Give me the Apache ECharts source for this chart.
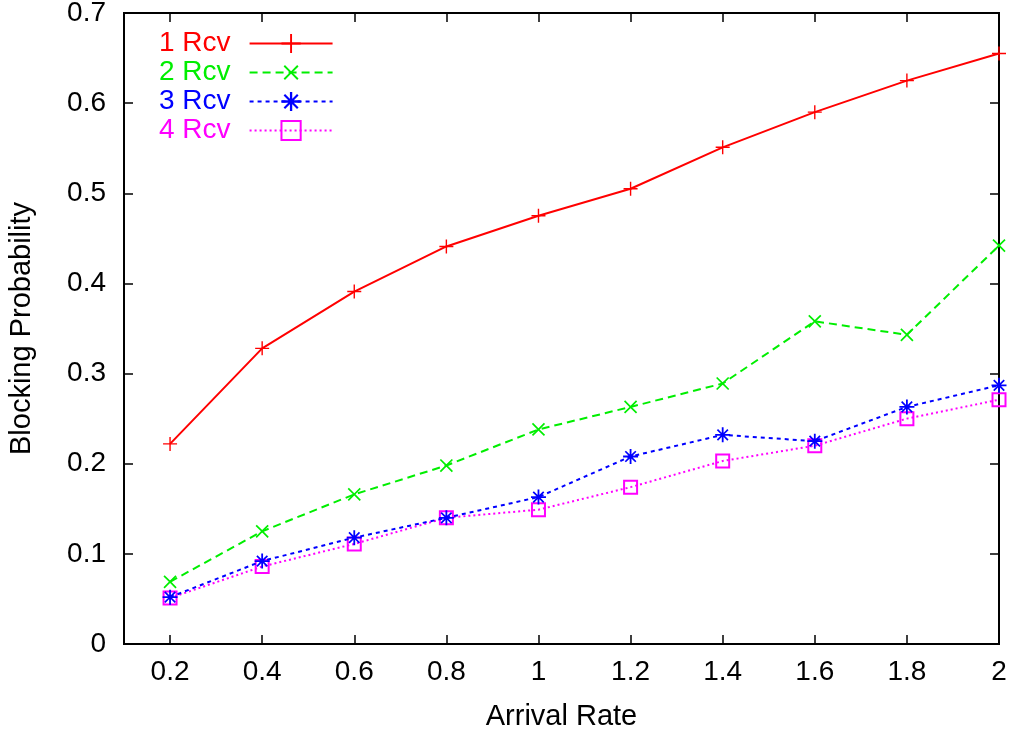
<!DOCTYPE html>
<html>
<head>
<meta charset="utf-8">
<script src="https://cdn.jsdelivr.net/npm/echarts@6/dist/echarts.min.js"></script>
<style>html,body{margin:0;padding:0;background:#fff;}#c{width:1011px;height:735px;}</style>
</head>
<body>
<div id="c"></div>
<script>
const arrivalRates = [0.2, 0.4, 0.6, 0.8, 1.0, 1.2, 1.4, 1.6, 1.8, 2.0];
const rcv1 = [0.222, 0.328, 0.391, 0.441, 0.475, 0.505, 0.551, 0.590, 0.625, 0.655];
const rcv2 = [0.069, 0.125, 0.166, 0.198, 0.238, 0.263, 0.289, 0.358, 0.343, 0.442];
const rcv3 = [0.052, 0.092, 0.118, 0.140, 0.163, 0.208, 0.232, 0.225, 0.263, 0.287];
const rcv4 = [0.051, 0.086, 0.111, 0.140, 0.149, 0.174, 0.203, 0.220, 0.250, 0.271];
const seriesNames = ['1 Rcv', '2 Rcv', '3 Rcv', '4 Rcv'];
const xTicks = [0.2, 0.4, 0.6, 0.8, 1, 1.2, 1.4, 1.6, 1.8, 2];

const FONT = 'Liberation Sans';
const plusPath = 'path://M-1,-10 L1,-10 L1,-1 L10,-1 L10,1 L1,1 L1,10 L-1,10 L-1,1 L-10,1 L-10,-1 L-1,-1 Z';
const starPath = 'path://M-1.2,-10 L1.2,-10 L1.2,-1.2 L10,-1.2 L10,1.2 L1.2,1.2 L1.2,10 L-1.2,10 L-1.2,1.2 L-10,1.2 L-10,-1.2 L-1.2,-1.2 Z ' +
  'M-7.8,-6.2 L-6.2,-7.8 L0,-1.6 L6.2,-7.8 L7.8,-6.2 L1.6,0 L7.8,6.2 L6.2,7.8 L0,1.6 L-6.2,7.8 L-7.8,6.2 L-1.6,0 Z';

function pairs(ys) { return arrivalRates.map((x, i) => [x, ys[i]]); }

const colors = ['#ff0000', '#00ee00', '#0000ff', '#ff00ff'];
const dataSets = [rcv1, rcv2, rcv3, rcv4];
const symbols = [plusPath, plusPath, starPath, 'rect'];
const rotations = [0, 45, 0, 0];
const sizes = [14, 17, 15, 13];
const lineTypes = ['solid', [8, 5], [4, 4], [2, 3]];

const series = dataSets.map((d, i) => ({
  name: seriesNames[i],
  type: 'line',
  data: pairs(d),
  symbol: symbols[i],
  symbolSize: sizes[i],
  symbolRotate: rotations[i],
  showAllSymbol: true,
  z: 10 - i,
  lineStyle: { color: colors[i], width: 2, type: lineTypes[i] },
  itemStyle: i === 3
    ? { color: 'rgba(0,0,0,0)', borderColor: colors[i], borderWidth: 2 }
    : { color: colors[i], borderWidth: 0 },
  emphasis: { disabled: true },
  animation: false
}));

const chart = echarts.init(document.getElementById('c'), null, { renderer: 'canvas' });
chart.setOption({
  animation: false,
  backgroundColor: '#ffffff',
  grid: { left: 124, right: 12, top: 13, bottom: 91, containLabel: false, outerBoundsMode: 'none', show: true, borderColor: '#000', borderWidth: 2, backgroundColor: 'transparent' },
  legend: {
    left: 154, top: 24, orient: 'vertical', align: 'right',
    itemWidth: 83, itemHeight: 24, itemGap: 0,
    data: seriesNames.map((n, i) => ({ name: n, textStyle: { color: colors[i], fontFamily: FONT, fontSize: 28, lineHeight: 29, padding: [0, 14, 0, 0] } })),
    selectedMode: false
  },
  xAxis: [{
    type: 'value', min: 0.1, max: 2, position: 'bottom',
    name: 'Arrival Rate', nameLocation: 'middle', nameGap: 58,
    nameTextStyle: { fontFamily: FONT, fontSize: 29, color: '#000' },
    axisLine: { show: true, onZero: false, lineStyle: { color: '#000', width: 2 } },
    axisTick: { show: true, inside: true, length: 9, customValues: xTicks, lineStyle: { color: '#000', width: 1.5 } },
    axisLabel: { customValues: xTicks, margin: 14, fontFamily: FONT, fontSize: 28, color: '#000', formatter: v => String(+v.toFixed(1)) },
    splitLine: { show: false }
  }, {
    type: 'value', min: 0.1, max: 2, position: 'top',
    axisLine: { show: true, onZero: false, lineStyle: { color: '#000', width: 2 } },
    axisTick: { show: true, inside: true, length: 9, customValues: xTicks, lineStyle: { color: '#000', width: 1.5 } },
    axisLabel: { show: false },
    splitLine: { show: false }
  }],
  yAxis: [{
    type: 'value', min: 0, max: 0.7, interval: 0.1, position: 'left',
    name: 'Blocking Probability', nameLocation: 'middle', nameGap: 88,
    nameTextStyle: { fontFamily: FONT, fontSize: 29, color: '#000' },
    axisLine: { show: true, onZero: false, lineStyle: { color: '#000', width: 2 } },
    axisTick: { show: true, inside: true, length: 9, lineStyle: { color: '#000', width: 1.5 } },
    axisLabel: { margin: 18, fontFamily: FONT, fontSize: 28, color: '#000', formatter: v => String(+v.toFixed(1)) },
    splitLine: { show: false }
  }, {
    type: 'value', min: 0, max: 0.7, interval: 0.1, position: 'right',
    axisLine: { show: true, onZero: false, lineStyle: { color: '#000', width: 2 } },
    axisTick: { show: true, inside: true, length: 9, lineStyle: { color: '#000', width: 1.5 } },
    axisLabel: { show: false },
    splitLine: { show: false }
  }],
  series: series
});
</script>
</body>
</html>
